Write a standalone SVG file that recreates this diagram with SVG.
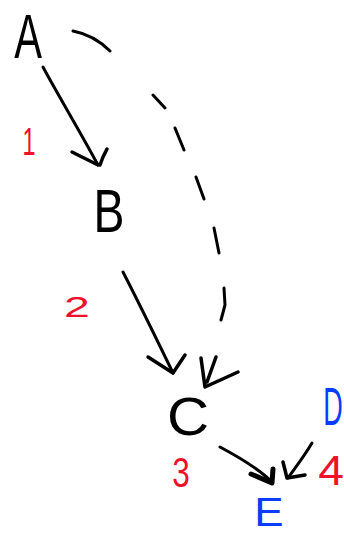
<svg xmlns="http://www.w3.org/2000/svg" width="344" height="535" viewBox="0 0 344 535">
  <style>
    .ink { fill: none; stroke: #000; stroke-width: 3; stroke-linecap: round; stroke-linejoin: round; }
    .head { fill: none; stroke: #000; stroke-width: 3.5; stroke-linecap: round; stroke-linejoin: round; }
    .thick { stroke-width: 5; }
    .letter { font-family: "Liberation Sans", "DejaVu Sans", sans-serif; text-anchor: middle; }
    .black { fill: #000; }
    .blue { fill: #0a3cff; }
    .red { fill: #f0102a; }
  </style>
  <rect width="344" height="535" fill="#fff"/>

  <!-- connectors -->
  <g id="connectors">
    <!-- A to B -->
    <path class="ink" d="M43,67 C58,95 78,128 98,165"/>
    <path class="head" d="M72,152 L86,159 L98,165 M107,149 L103,157 L100,165"/>
    <!-- A to C, dashed arc -->
    <path class="ink" d="M73,31 Q94,35 110,51 M153,95 L165,108 M175,128 L184,150 M196,177 L204,199 M214,228 L219,253 M224,288 L225,305 L221,320"/>
    <path class="head" d="M201,358 L205,387 L238,372 M216,357 L207,382"/>
    <!-- B to C -->
    <path class="ink" d="M123,272 C140,305 158,342 173,373"/>
    <path class="head" d="M148,357 L173,373 L185,355"/>
    <!-- C to E -->
    <path class="ink" d="M220,447 C235,455 258,468 272,482"/>
    <path class="head thick" d="M251,474 L272,483 L273,469"/>
    <!-- D to E -->
    <path class="ink" d="M312,443 C303,458 295,468 288,478"/>
    <path class="head" d="M283,462 L287,478 L305,475"/>
  </g>

  <!-- nodes -->
  <g id="node-A">
    <text class="letter black" font-size="63" transform="translate(28,58) scale(0.66,1)">A</text>
  </g>
  <g id="node-B">
    <text class="letter black" font-size="61" transform="translate(109,232) scale(0.76,1)">B</text>
  </g>
  <g id="node-C">
    <text class="letter black" font-size="53" transform="translate(188,435) scale(1.1,1)">C</text>
  </g>
  <g id="node-D">
    <text class="letter blue" font-size="54" transform="translate(333,425) scale(0.5,1)">D</text>
  </g>
  <g id="node-E">
    <text class="letter blue" font-size="40" transform="translate(269,526) scale(1.1,1)">E</text>
  </g>

  <!-- step numbers -->
  <g id="labels">
    <text class="letter red" font-size="39" transform="translate(29,155) scale(0.6,1)">1</text>
    <text class="letter red" font-size="29" transform="translate(77,317) scale(1.6,1)">2</text>
    <text class="letter red" font-size="42" transform="translate(181,487) scale(0.75,1)">3</text>
    <text class="letter red" font-size="42" transform="translate(331,485) scale(1.1,1)">4</text>
  </g>
</svg>
